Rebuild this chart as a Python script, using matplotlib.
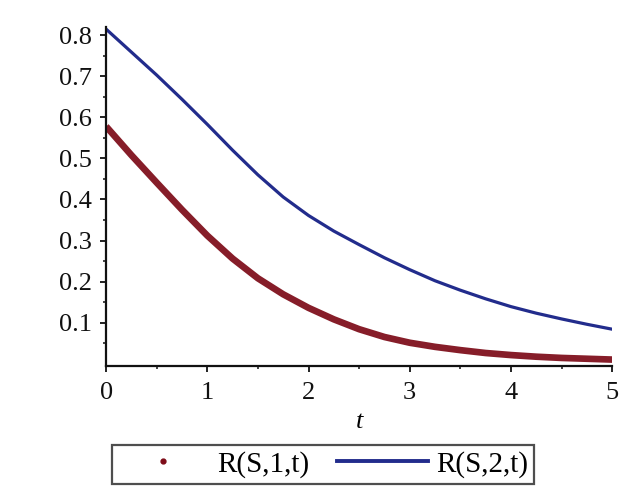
import matplotlib
matplotlib.use("Agg")
import matplotlib.pyplot as plt
from matplotlib.lines import Line2D
from matplotlib.ticker import MultipleLocator, FixedLocator

t_vals = [0, 0.25, 0.5, 0.75, 1, 1.25, 1.5, 1.75, 2, 2.25, 2.5, 2.75, 3,
          3.25, 3.5, 3.75, 4, 4.25, 4.5, 4.75, 5]
r1_vals = [0.578, 0.508, 0.441, 0.375, 0.312, 0.256, 0.208, 0.169, 0.136,
           0.108, 0.084, 0.065, 0.051, 0.041, 0.033, 0.026, 0.021, 0.017,
           0.014, 0.012, 0.010]
r2_vals = [0.815, 0.759, 0.703, 0.644, 0.583, 0.520, 0.460, 0.406, 0.361,
           0.323, 0.290, 0.258, 0.229, 0.202, 0.179, 0.158, 0.139, 0.123,
           0.109, 0.096, 0.084]
x_ticks = [0, 1, 2, 3, 4, 5]
y_ticks = [0.1, 0.2, 0.3, 0.4, 0.5, 0.6, 0.7, 0.8]
labels = ["R(S,1,t)", "R(S,2,t)"]

red = "#7d0c18"
blue = "#222c8c"

plt.rcParams['font.family'] = ['Liberation Serif', 'DejaVu Serif']

fig = plt.figure(figsize=(6.24, 5.01), dpi=100)
ax = fig.add_axes([0.170, 0.270, 0.811, 0.676])

ax.plot(t_vals, r1_vals, color=red, lw=4.8, solid_capstyle='butt', alpha=0.93)
ax.plot(t_vals, r2_vals, color=blue, lw=2.3)

ax.set_xlim(0, 5)
ax.set_ylim(-0.005, 0.82)
ax.xaxis.set_major_locator(FixedLocator(x_ticks))
ax.yaxis.set_major_locator(FixedLocator(y_ticks))
ax.xaxis.set_minor_locator(MultipleLocator(0.5))
ax.yaxis.set_minor_locator(FixedLocator([0.05, 0.15, 0.25, 0.35, 0.45, 0.55, 0.65, 0.75]))
ax.set_xticklabels([str(v) for v in x_ticks])
ax.set_yticklabels([f"{v:.1f}" for v in y_ticks])

for s in ['top', 'right']:
    ax.spines[s].set_visible(False)
for s in ['left', 'bottom']:
    ax.spines[s].set_linewidth(1.6)
    ax.spines[s].set_color('#111111')

ax.tick_params(which='major', direction='out', length=4, width=1.3,
               labelsize=19, colors='#111111')
ax.tick_params(axis='x', which='major', pad=8)
ax.tick_params(axis='y', which='major', pad=6)
ax.tick_params(which='minor', direction='out', length=2.5, width=1.1, colors='#111111')

ax.set_xlabel('t', fontsize=19, style='italic', labelpad=5)

handles = [Line2D([], [], color=red, marker='.', markersize=7, linestyle='None'),
           Line2D([], [], color=blue, lw=2.8)]
leg = fig.legend(handles, labels, loc='center', bbox_to_anchor=(0.518, 0.073),
                 ncol=2, frameon=True, fancybox=False, fontsize=21,
                 handlelength=3.1, columnspacing=0.95, handletextpad=0.3,
                 borderpad=0.2, edgecolor='#222222')
leg.get_frame().set_linewidth(1.6)

fig.savefig("out.png", dpi=100, facecolor='white')
